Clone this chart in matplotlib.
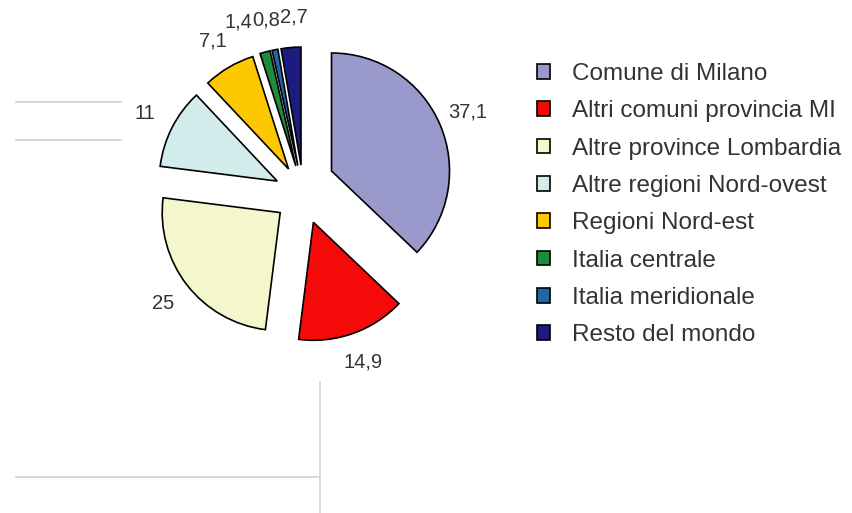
import numpy as np
import matplotlib.pyplot as plt
from matplotlib.lines import Line2D

plt.rcParams["font.family"] = ["Liberation Sans", "DejaVu Sans"]

categories = [
    "Comune di Milano",
    "Altri comuni provincia MI",
    "Altre province Lombardia",
    "Altre regioni Nord-ovest",
    "Regioni Nord-est",
    "Italia centrale",
    "Italia meridionale",
    "Resto del mondo",
]
values = [37.1, 14.9, 25, 11, 7.1, 1.4, 0.8, 2.7]
colors = ["#9999cc", "#f50a0a", "#f4f6cc", "#d2ecec", "#fdc800",
          "#1e8c3c", "#2266aa", "#1c1c80"]

W, H = 852, 513
cx, cy, R = 303.5, 194.5, 118   # pie centre and radius in pixels

fig = plt.figure(figsize=(W / 100, H / 100), dpi=100)
ax = fig.add_axes([0, 0, 1, 1])

labels = [f"{v:g}".replace(".", ",") for v in values]
wedges, texts = ax.pie(
    values,
    labels=labels,
    colors=colors,
    startangle=90,
    counterclock=False,
    explode=[0.25] * len(values),
    radius=1,
    wedgeprops=dict(edgecolor="black", linewidth=1.2),
    textprops=dict(fontsize=14.5, color="#333333"),
)
ax.set_aspect("auto")
ax.set_xlim(-cx / R, (W - cx) / R)
ax.set_ylim(-(H - cy) / R, cy / R)
ax.axis("off")

# the big slice is pulled out further and more upward in the source chart
ang = np.deg2rad(40)
wedges[0].set_center((0.31 * np.cos(ang), 0.31 * np.sin(ang)))

# labels centred on each slice's bisector
for w, t in zip(wedges, texts):
    m = np.deg2rad((w.theta1 + w.theta2) / 2)
    x0, y0 = w.center
    t.set_position((x0 + 1.26 * np.cos(m), y0 + 1.26 * np.sin(m)))
    t.set_ha("center")
    t.set_va("center")
# crowded small labels
texts[5].set_x(texts[5].get_position()[0] - 0.16)
texts[6].set_x(texts[6].get_position()[0] - 0.02)
texts[7].set_x(texts[7].get_position()[0] + 0.05)

leg = ax.legend(
    wedges, categories,
    loc="upper left",
    bbox_to_anchor=(537 / W, 1 - 63 / H),
    frameon=False,
    fontsize=17.5,
    borderpad=0,
    borderaxespad=0,
    handlelength=0.55,
    handleheight=0.55,
    handletextpad=0.88,
    labelspacing=0.63,
)
for t in leg.get_texts():
    t.set_color("#333333")

# leftover grey guide lines of the original graphic
grey = "#d2d2ca"
segs = [((16, 121), (102, 102)), ((16, 121), (140, 140)),
        ((16, 319), (477, 477)), ((320, 320), (382, 512))]
for xs, ys in segs:
    fig.add_artist(Line2D([x / W for x in xs], [1 - y / H for y in ys],
                          color=grey, linewidth=1.2))

fig.savefig("out.png", dpi=100)
